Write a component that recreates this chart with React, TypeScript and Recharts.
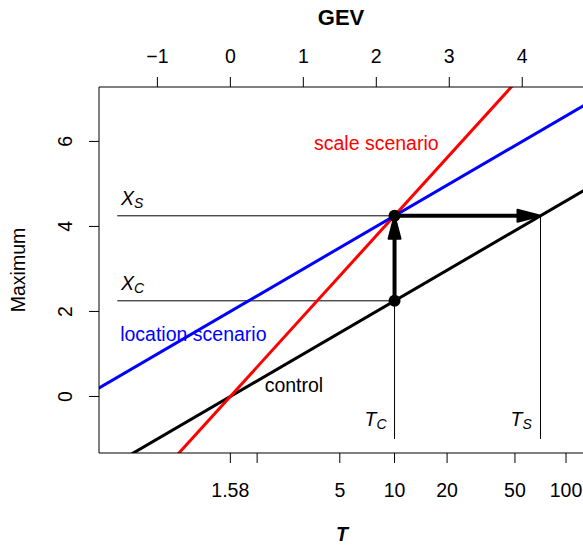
import React from "react";
import { ComposedChart, Line, XAxis, YAxis, ReferenceLine, ReferenceDot, Label } from "recharts";

const FONT = "'Liberation Sans', Arial, Helvetica, sans-serif";

// top axis: GEV reduced variate
const gevTicks = [-1, 0, 1, 2, 3, 4];
// bottom axis: return period T, placed at its reduced variate
const periodPos = [0, 0.367, 1.5, 2.25, 2.97, 3.9, 4.6];
const periodLabels = ["1.58", "", "5", "10", "20", "50", "100"];
// left axis
const maxTicks = [0, 2, 4, 6];

// end points of the three lines (clipped by the plot box)
const lineX = [-2, 5.5];
const controlY = [-2, 5.5];
const locationY = [0, 7.5];
const scaleY = [-3.78, 10.4];

// control / scenario values
const tC = 2.25;
const tS = 4.25;
const xC = 2.25;
const xS = 4.25;
const guideX0 = -1.55;
const guideY0 = -1;

const rows = (ys: number[]) => lineX.map((x, i) => ({ x, y: ys[i] }));
const controlData = rows(controlY);
const locationData = rows(locationY);
const scaleData = rows(scaleY);

const fmtGev = (v: number) => (v < 0 ? "\u2212" + Math.abs(v) : String(v));

const TopTick = (p: any) => (
  <text x={p.x} y={63} textAnchor="middle" fontSize={19.5} fontFamily={FONT} fill="#000">
    {fmtGev(p.payload.value)}
  </text>
);

const BottomTick = (p: any) => (
  <text x={p.x} y={497} textAnchor="middle" fontSize={19.5} fontFamily={FONT} fill="#000">
    {periodLabels[periodPos.indexOf(p.payload.value)]}
  </text>
);

const LeftTick = (p: any) => (
  <text
    x={72}
    y={p.y}
    transform={`rotate(-90 72 ${p.y})`}
    textAnchor="middle"
    fontSize={19.5}
    fontFamily={FONT}
    fill="#000"
  >
    {p.payload.value}
  </text>
);

const arrowShape = (p: any) => {
  const { x1, y1, x2, y2 } = p;
  const len = Math.hypot(x2 - x1, y2 - y1);
  const ux = (x2 - x1) / len;
  const uy = (y2 - y1) / len;
  const hl = 23;
  const hw = 6;
  const bx = x2 - ux * hl;
  const by = y2 - uy * hl;
  const pts = [
    [x2, y2],
    [bx - uy * hw, by + ux * hw],
    [bx + uy * hw, by - ux * hw],
  ]
    .map((q) => q.join(","))
    .join(" ");
  return (
    <g>
      <line x1={x1} y1={y1} x2={bx + ux * 2} y2={by + uy * 2} stroke="#000" strokeWidth={4} />
      <polygon points={pts} fill="#000" stroke="#000" strokeWidth={2} strokeLinejoin="round" />
    </g>
  );
};

const noteShape = (text: string, color: string, anchor: string) => (p: any) => (
  <text x={p.cx} y={p.cy} textAnchor={anchor} fontSize={19.5} fontFamily={FONT} fill={color}>
    {text}
  </text>
);

const subShape = (main: string, sub: string, anchor: string) => (p: any) => (
  <text x={p.cx} y={p.cy} textAnchor={anchor} fontFamily={FONT} fontStyle="italic" fill="#000">
    <tspan fontSize={19.5}>{main}</tspan>
    <tspan fontSize={14} dy={3}>
      {sub}
    </tspan>
  </text>
);

export default function App() {
  return (
    <div
      style={{
        position: "absolute",
        left: 0,
        top: 0,
        width: 583,
        height: 546,
        overflow: "hidden",
        background: "#fff",
      }}
    >
      <ComposedChart width={600} height={546} margin={{ top: 0, right: 15, bottom: 0, left: 0 }}>
        <XAxis
          xAxisId="bottom"
          dataKey="x"
          type="number"
          orientation="bottom"
          domain={[-1.8, 4.86]}
          allowDataOverflow
          ticks={periodPos}
          interval={0}
          height={93}
          tickSize={10}
          tick={BottomTick}
          stroke="#000"
        >
          <Label
            content={() => (
              <text x={342} y={541} textAnchor="middle" fontSize={19.5} fontFamily={FONT} fontStyle="italic" fontWeight="bold">
                T
              </text>
            )}
          />
        </XAxis>
        <XAxis
          xAxisId="top"
          dataKey="x"
          type="number"
          orientation="top"
          domain={[-1.8, 4.86]}
          allowDataOverflow
          ticks={gevTicks}
          interval={0}
          height={87}
          tickSize={10}
          tick={TopTick}
          stroke="#000"
        >
          <Label
            content={() => (
              <text x={341} y={25} textAnchor="middle" fontSize={22} fontFamily={FONT} fontWeight="bold">
                GEV
              </text>
            )}
          />
        </XAxis>
        <YAxis
          yAxisId="left"
          type="number"
          domain={[-1.33, 7.28]}
          allowDataOverflow
          ticks={maxTicks}
          interval={0}
          width={99}
          tickSize={10}
          tick={LeftTick}
          stroke="#000"
        >
          <Label
            content={() => (
              <text x={25} y={270} transform="rotate(-90 25 270)" textAnchor="middle" fontSize={19.5} fontFamily={FONT}>
                Maximum
              </text>
            )}
          />
        </YAxis>

        {/* guide lines */}
        <ReferenceLine xAxisId="bottom" yAxisId="left" segment={[{ x: guideX0, y: xS }, { x: tC, y: xS }]} stroke="#000" strokeWidth={1} />
        <ReferenceLine xAxisId="bottom" yAxisId="left" segment={[{ x: guideX0, y: xC }, { x: tC, y: xC }]} stroke="#000" strokeWidth={1} />
        <ReferenceLine xAxisId="bottom" yAxisId="left" segment={[{ x: tC, y: guideY0 }, { x: tC, y: xC }]} stroke="#000" strokeWidth={1} />
        <ReferenceLine xAxisId="bottom" yAxisId="left" segment={[{ x: tS, y: guideY0 }, { x: tS, y: xS }]} stroke="#000" strokeWidth={1} />

        <Line xAxisId="bottom" yAxisId="left" data={controlData} dataKey="y" type="linear" stroke="#000" strokeWidth={3} dot={false} isAnimationActive={false} />
        <Line xAxisId="bottom" yAxisId="left" data={scaleData} dataKey="y" type="linear" stroke="#ff0000" strokeWidth={3} dot={false} isAnimationActive={false} />
        <Line xAxisId="bottom" yAxisId="left" data={locationData} dataKey="y" type="linear" stroke="#0000ff" strokeWidth={3} dot={false} isAnimationActive={false} />

        {/* arrows */}
        <ReferenceLine xAxisId="bottom" yAxisId="left" segment={[{ x: tC, y: xC }, { x: tC, y: xS }]} shape={arrowShape} />
        <ReferenceLine xAxisId="bottom" yAxisId="left" segment={[{ x: tC, y: xS }, { x: tS, y: xS }]} shape={arrowShape} />

        <ReferenceDot xAxisId="bottom" yAxisId="left" x={tC} y={xC} r={6} fill="#000" stroke="none" />
        <ReferenceDot xAxisId="bottom" yAxisId="left" x={tC} y={xS} r={6} fill="#000" stroke="none" />

        {/* annotations */}
        <ReferenceDot xAxisId="bottom" yAxisId="left" x={2.0} y={5.8} shape={noteShape("scale scenario", "#ff0000", "middle")} />
        <ReferenceDot xAxisId="bottom" yAxisId="left" x={-1.51} y={1.31} shape={noteShape("location scenario", "#0000ff", "start")} />
        <ReferenceDot xAxisId="bottom" yAxisId="left" x={0.47} y={0.11} shape={noteShape("control", "#000", "start")} />
        <ReferenceDot xAxisId="bottom" yAxisId="left" x={-1.5} y={4.51} shape={subShape("X", "S", "start")} />
        <ReferenceDot xAxisId="bottom" yAxisId="left" x={-1.5} y={2.51} shape={subShape("X", "C", "start")} />
        <ReferenceDot xAxisId="bottom" yAxisId="left" x={2.14} y={-0.7} shape={subShape("T", "C", "end")} />
        <ReferenceDot xAxisId="bottom" yAxisId="left" x={4.13} y={-0.7} shape={subShape("T", "S", "end")} />
      </ComposedChart>
    </div>
  );
}
